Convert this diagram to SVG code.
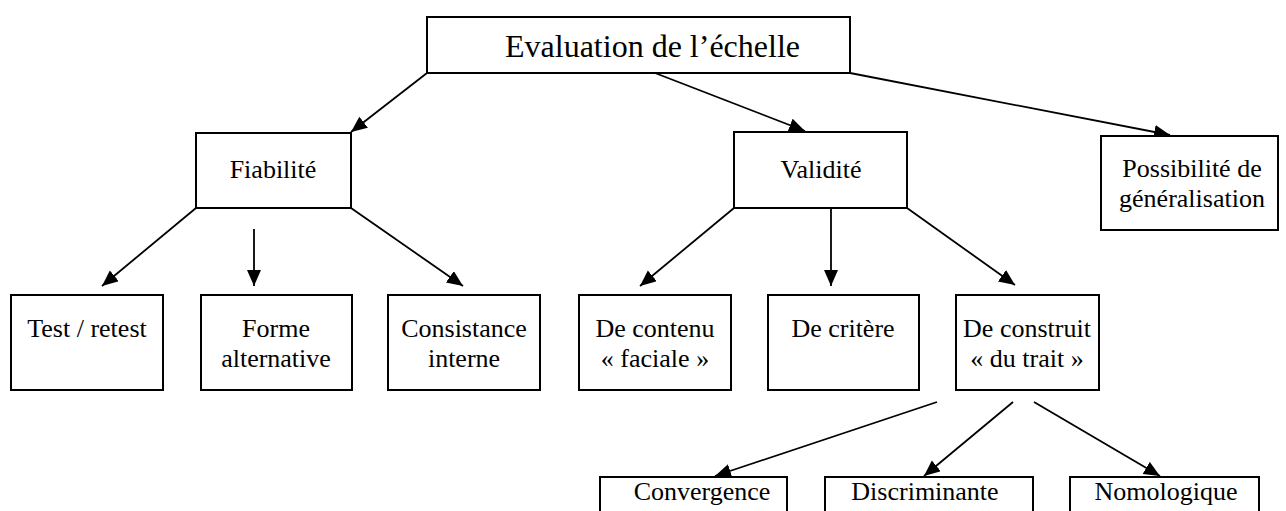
<svg xmlns="http://www.w3.org/2000/svg" width="1286" height="511" viewBox="0 0 1286 511">
<style>
.box{fill:#fff;stroke:#000;stroke-width:2}
.t{font-family:"Liberation Serif","Times New Roman",serif;font-size:26px;fill:#000;text-anchor:middle}
.big{font-size:32px;text-anchor:start}
.c{stroke:#000;stroke-width:1.8;fill:none;marker-end:url(#ah)}
</style>
<defs>
<marker id="ah" markerUnits="userSpaceOnUse" markerWidth="18" markerHeight="16" refX="16" refY="7" orient="auto">
<path d="M0,0 L16,7 L0,14 z" fill="#000"/>
</marker>
</defs>
<g id="connectors">
<line class="c" x1="427" y1="73" x2="351" y2="132"/>
<line class="c" x1="655" y1="73" x2="805" y2="131"/>
<line class="c" x1="850" y1="73" x2="1170" y2="135"/>
<line class="c" x1="196" y1="208" x2="102" y2="286"/>
<line class="c" x1="254" y1="229" x2="254" y2="286"/>
<line class="c" x1="351" y1="208" x2="463" y2="286"/>
<line class="c" x1="734" y1="208" x2="640" y2="286"/>
<line class="c" x1="831" y1="208" x2="831" y2="286"/>
<line class="c" x1="907" y1="208" x2="1015" y2="285"/>
<line class="c" x1="937" y1="402" x2="715" y2="476"/>
<line class="c" x1="1013" y1="402" x2="924" y2="476"/>
<line class="c" x1="1034" y1="402" x2="1160" y2="476"/>
</g>
<g id="n-eval"><rect class="box" x="427" y="17" width="423" height="56"/><text class="t big" x="505" y="57">Evaluation de l’échelle</text></g>
<g id="n-fiab"><rect class="box" x="196" y="133" width="155" height="75"/><text class="t" x="273" y="178">Fiabilité</text></g>
<g id="n-valid"><rect class="box" x="734" y="132" width="173" height="76"/><text class="t" x="821" y="178">Validité</text></g>
<g id="n-gen"><rect class="box" x="1101" y="136" width="177" height="94"/><text class="t" x="1192" y="177">Possibilité de</text><text class="t" x="1192" y="207">généralisation</text></g>
<g id="n-test"><rect class="box" x="11" y="295" width="152" height="95"/><text class="t" x="87" y="337">Test / retest</text></g>
<g id="n-forme"><rect class="box" x="201" y="295" width="151" height="95"/><text class="t" x="276" y="337">Forme</text><text class="t" x="276" y="367">alternative</text></g>
<g id="n-consist"><rect class="box" x="388" y="295" width="152" height="95"/><text class="t" x="464" y="337">Consistance</text><text class="t" x="464" y="367">interne</text></g>
<g id="n-contenu"><rect class="box" x="579" y="295" width="152" height="95"/><text class="t" x="655" y="337">De contenu</text><text class="t" x="655" y="367">« faciale »</text></g>
<g id="n-critere"><rect class="box" x="768" y="295" width="151" height="95"/><text class="t" x="843" y="337">De critère</text></g>
<g id="n-construit"><rect class="box" x="956" y="295" width="143" height="95"/><text class="t" x="1027" y="337">De construit</text><text class="t" x="1027" y="367">« du trait »</text></g>
<g id="n-conv"><rect class="box" x="600" y="477" width="187" height="60"/><text class="t" x="702" y="500">Convergence</text></g>
<g id="n-discr"><rect class="box" x="825" y="477" width="208" height="60"/><text class="t" x="925" y="500">Discriminante</text></g>
<g id="n-nomo"><rect class="box" x="1070" y="477" width="189" height="60"/><text class="t" x="1166" y="500">Nomologique</text></g>
</svg>
